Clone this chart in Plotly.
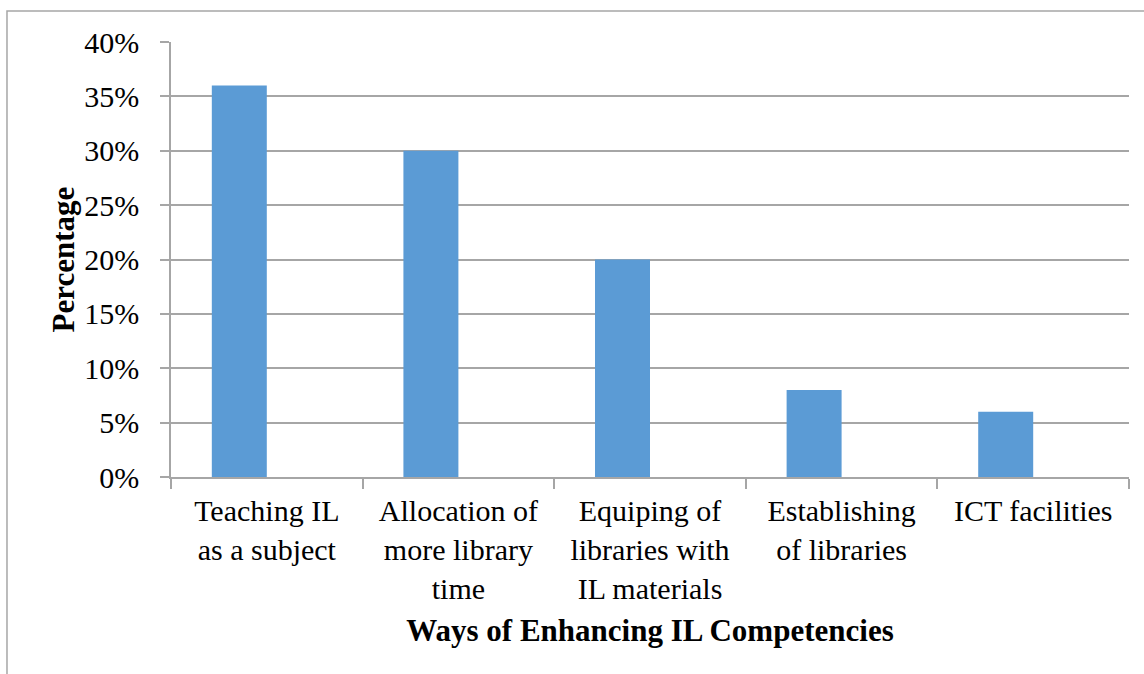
import plotly.graph_objects as go

# Survey results: ways of enhancing information literacy (IL) competencies
categories = [
    "Teaching IL as a subject",
    "Allocation of more library time",
    "Equiping of libraries with IL materials",
    "Establishing of libraries",
    "ICT facilities",
]
tick_labels = [
    "Teaching IL<br>as a subject",
    "Allocation of<br>more library<br>time",
    "Equiping of<br>libraries with<br>IL materials",
    "Establishing<br>of libraries",
    "ICT facilities",
]
percentages = [36, 30, 20, 8, 6]
y_ticks = [0, 5, 10, 15, 20, 25, 30, 35, 40]
y_tick_labels = [f"{v}%" for v in y_ticks]

SERIF = "Liberation Serif, Times New Roman, serif"
GRID = "#a6a6a6"
BAR_W = 0.287

fig = go.Figure(
    go.Bar(
        x=categories,
        y=percentages,
        width=BAR_W,
        offset=-BAR_W,
        marker=dict(color="#5b9bd5", line=dict(width=0)),
        hoverinfo="x+y",
    )
)

fig.update_layout(
    width=1144,
    height=674,
    margin=dict(l=171, r=15, t=42, b=197),
    paper_bgcolor="white",
    plot_bgcolor="white",
    font=dict(family=SERIF, size=30, color="black"),
    showlegend=False,
    shapes=[
        # outer chart frame
        dict(
            type="rect", xref="paper", yref="paper",
            x0=-0.1712, y0=-0.6, x1=1.2, y1=1.0713,
            line=dict(color="#a6a6a6", width=1.5),
            fillcolor="rgba(0,0,0,0)", layer="below",
        )
    ],
)

fig.update_xaxes(
    type="category",
    tickvals=categories,
    ticktext=tick_labels,
    tickson="boundaries",
    ticks="outside",
    ticklen=10,
    tickcolor=GRID,
    tickwidth=1.5,
    showline=True,
    linecolor=GRID,
    linewidth=1.5,
    showgrid=False,
    ticklabelstandoff=6,
    tickfont=dict(family=SERIF, size=30),
    title=dict(
        text="<b>Ways of Enhancing IL Competencies</b>",
        font=dict(family=SERIF, size=31),
        standoff=16,
    ),
)

fig.update_yaxes(
    range=[0, 40],
    tickvals=y_ticks,
    ticktext=y_tick_labels,
    ticks="outside",
    ticklen=9,
    tickcolor=GRID,
    tickwidth=1.5,
    showline=True,
    linecolor=GRID,
    linewidth=1.5,
    showgrid=True,
    gridcolor=GRID,
    gridwidth=1.5,
    zeroline=False,
    ticklabelstandoff=15,
    tickfont=dict(family=SERIF, size=30),
    title=dict(
        text="<b>Percentage</b>",
        font=dict(family=SERIF, size=31),
        standoff=0,
    ),
)

fig.write_html("out.html")
